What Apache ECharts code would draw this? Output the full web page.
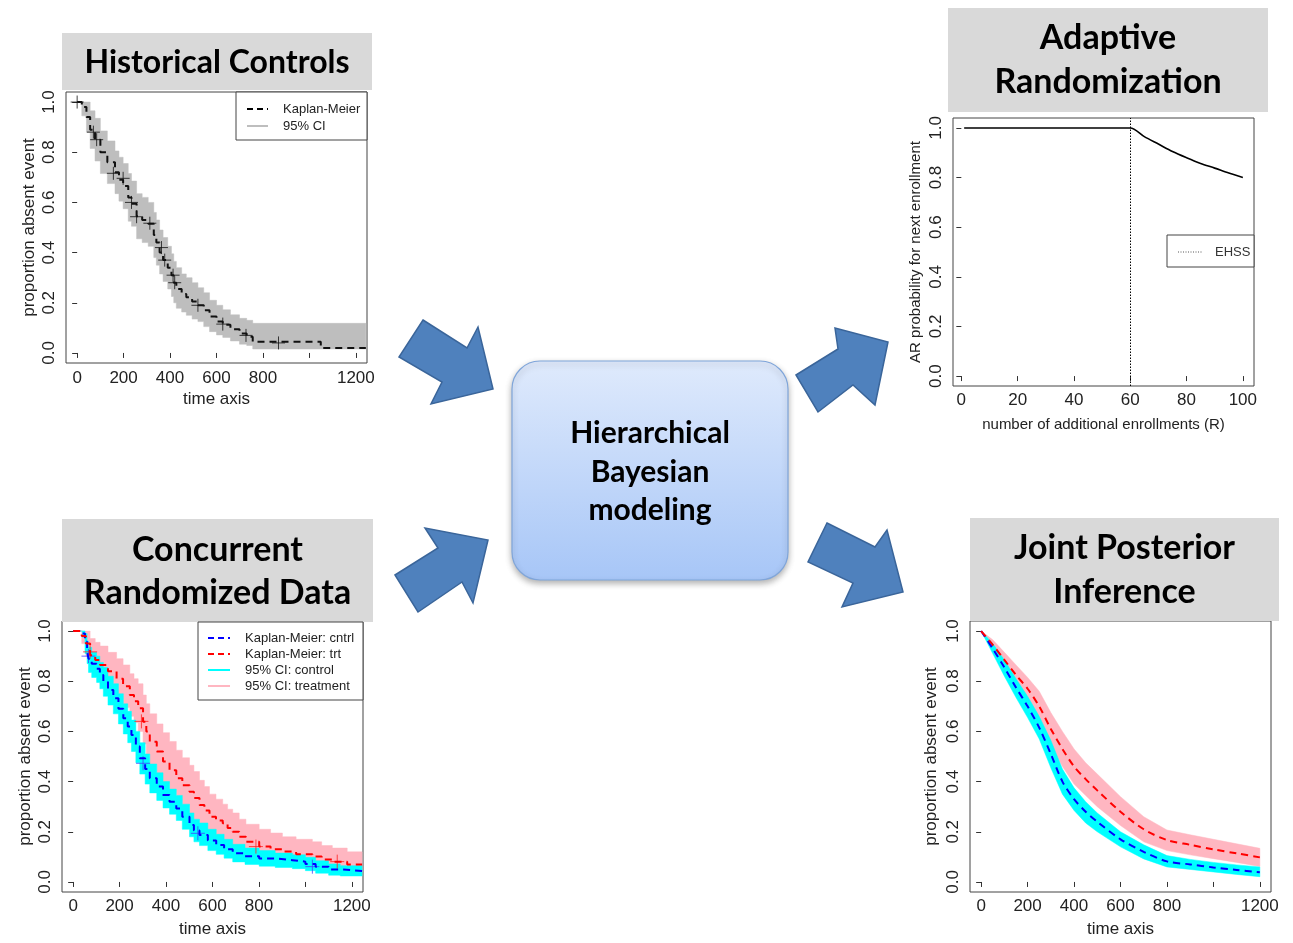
<!DOCTYPE html>
<html><head><meta charset="utf-8">
<script src="https://cdn.jsdelivr.net/npm/echarts@6/dist/echarts.min.js"></script>
<style>html,body{margin:0;padding:0;background:#fff}#c{width:1293px;height:943px}</style>
</head><body><div id="c"></div><script>
// ---------- Panel 1: Historical Controls (Kaplan-Meier, step) ----------
const hcTime  = [0, 20, 40, 56, 77, 100, 130, 163, 180, 198, 220, 234, 256, 280, 306, 330, 341, 355, 370, 390, 406, 416, 427, 450, 470, 495, 520, 545, 570, 600, 627, 660, 699, 730, 756, 1049, 1243];
const hcSurv  = [1.0, 0.98, 0.94, 0.89, 0.85, 0.80, 0.76, 0.72, 0.69, 0.665, 0.62, 0.595, 0.545, 0.53, 0.515, 0.47, 0.44, 0.40, 0.37, 0.34, 0.31, 0.28, 0.255, 0.235, 0.222, 0.205, 0.19, 0.17, 0.145, 0.125, 0.112, 0.095, 0.078, 0.065, 0.045, 0.02, 0.02];
const hcUpper = [1.0, 1.0, 1.0, 0.965, 0.935, 0.885, 0.845, 0.805, 0.78, 0.755, 0.715, 0.685, 0.635, 0.62, 0.60, 0.56, 0.53, 0.49, 0.46, 0.425, 0.395, 0.365, 0.34, 0.315, 0.30, 0.28, 0.26, 0.24, 0.21, 0.19, 0.172, 0.152, 0.138, 0.13, 0.118, 0.118, 0.118];
const hcLower = [1.0, 0.945, 0.88, 0.815, 0.765, 0.715, 0.675, 0.635, 0.605, 0.575, 0.525, 0.505, 0.455, 0.44, 0.425, 0.38, 0.35, 0.315, 0.285, 0.255, 0.225, 0.2, 0.178, 0.163, 0.15, 0.135, 0.125, 0.105, 0.085, 0.072, 0.062, 0.048, 0.035, 0.03, 0.016, 0.016, 0.016];
const hcCensorTime = [0, 70, 84, 156, 198, 234, 256, 313, 363, 377, 413, 420, 520, 627, 727, 867];
const hcCensorSurv = [1.0, 0.88, 0.85, 0.716, 0.696, 0.60, 0.543, 0.517, 0.42, 0.37, 0.31, 0.28, 0.19, 0.115, 0.07, 0.04];

// ---------- Panel 2: Adaptive Randomization ----------
const arR    = [1, 10, 20, 30, 40, 50, 60, 65, 70, 75, 80, 85, 90, 95, 100];
const arProb = [1.0, 1.0, 1.0, 1.0, 1.0, 1.0, 1.0, 0.965, 0.935, 0.905, 0.88, 0.857, 0.838, 0.818, 0.80];
const arEHSS = 60;

// ---------- Panel 3: Concurrent Randomized Data (step) ----------
const ctrlTime  = [0, 40, 51, 60, 66, 80, 101, 115, 130, 150, 173, 195, 216, 235, 251, 270, 287, 310, 330, 360, 387, 415, 444, 470, 501, 520, 544, 580, 616, 650, 687, 740, 801, 870, 944, 1000, 1044, 1100, 1150, 1244];
const ctrlSurv  = [1.0, 0.99, 0.957, 0.92, 0.89, 0.87, 0.85, 0.825, 0.80, 0.765, 0.732, 0.69, 0.652, 0.62, 0.586, 0.54, 0.493, 0.45, 0.413, 0.38, 0.347, 0.32, 0.293, 0.26, 0.227, 0.205, 0.187, 0.165, 0.147, 0.13, 0.114, 0.102, 0.094, 0.087, 0.081, 0.072, 0.061, 0.05, 0.044, 0.044];
const ctrlUpper = [1.0, 1.0, 0.99, 0.96, 0.935, 0.915, 0.90, 0.875, 0.855, 0.82, 0.79, 0.75, 0.71, 0.68, 0.645, 0.60, 0.555, 0.51, 0.47, 0.435, 0.40, 0.37, 0.345, 0.31, 0.275, 0.25, 0.235, 0.21, 0.19, 0.17, 0.15, 0.135, 0.125, 0.115, 0.108, 0.098, 0.085, 0.072, 0.065, 0.065];
const ctrlLower = [1.0, 0.975, 0.91, 0.87, 0.835, 0.815, 0.795, 0.77, 0.74, 0.705, 0.67, 0.63, 0.59, 0.555, 0.52, 0.475, 0.43, 0.39, 0.355, 0.325, 0.295, 0.27, 0.245, 0.21, 0.18, 0.16, 0.145, 0.125, 0.11, 0.095, 0.08, 0.07, 0.063, 0.058, 0.053, 0.045, 0.035, 0.027, 0.024, 0.024];
const trtTime  = [0, 37, 55, 73, 95, 116, 150, 187, 215, 244, 262, 280, 301, 315, 330, 360, 387, 415, 444, 470, 501, 520, 544, 565, 587, 615, 644, 665, 687, 715, 744, 801, 850, 901, 960, 1030, 1070, 1116, 1180, 1244];
const trtSurv  = [1.0, 0.98, 0.95, 0.904, 0.885, 0.865, 0.84, 0.81, 0.78, 0.745, 0.72, 0.692, 0.638, 0.60, 0.559, 0.52, 0.48, 0.445, 0.413, 0.385, 0.36, 0.335, 0.307, 0.285, 0.26, 0.245, 0.234, 0.215, 0.2, 0.18, 0.16, 0.141, 0.13, 0.121, 0.11, 0.101, 0.09, 0.081, 0.07, 0.068];
const trtUpper = [1.0, 1.0, 1.0, 0.97, 0.955, 0.94, 0.915, 0.89, 0.865, 0.83, 0.81, 0.79, 0.745, 0.71, 0.67, 0.63, 0.595, 0.56, 0.525, 0.495, 0.465, 0.44, 0.405, 0.38, 0.35, 0.33, 0.31, 0.29, 0.275, 0.25, 0.23, 0.21, 0.195, 0.18, 0.17, 0.16, 0.145, 0.135, 0.12, 0.115];
const trtLower = [1.0, 0.95, 0.90, 0.84, 0.82, 0.79, 0.765, 0.73, 0.695, 0.66, 0.635, 0.60, 0.55, 0.51, 0.47, 0.43, 0.39, 0.36, 0.325, 0.3, 0.275, 0.25, 0.225, 0.205, 0.185, 0.17, 0.16, 0.145, 0.13, 0.115, 0.10, 0.085, 0.078, 0.072, 0.065, 0.058, 0.052, 0.046, 0.04, 0.038];
const ctrlCensorTime = [66, 301, 537, 1030];
const ctrlCensorSurv = [0.90, 0.473, 0.194, 0.061];
const trtCensorTime  = [73, 294, 787, 1137];
const trtCensorSurv  = [0.917, 0.64, 0.141, 0.081];

// ---------- Panel 4: Joint Posterior Inference (smooth) ----------
const jpTime      = [0, 50, 100, 150, 200, 250, 300, 350, 400, 450, 500, 600, 700, 800, 900, 1000, 1100, 1200];
const jpTrt       = [1.0, 0.945, 0.885, 0.825, 0.77, 0.70, 0.61, 0.53, 0.46, 0.41, 0.365, 0.28, 0.21, 0.167, 0.148, 0.13, 0.114, 0.098];
const jpTrtUpper  = [1.0, 0.965, 0.915, 0.865, 0.815, 0.76, 0.675, 0.60, 0.53, 0.475, 0.43, 0.34, 0.26, 0.207, 0.188, 0.17, 0.152, 0.134];
const jpTrtLower  = [1.0, 0.925, 0.855, 0.79, 0.725, 0.645, 0.545, 0.46, 0.39, 0.345, 0.30, 0.225, 0.16, 0.125, 0.108, 0.093, 0.078, 0.062];
const jpCtrl      = [1.0, 0.93, 0.855, 0.775, 0.70, 0.615, 0.51, 0.40, 0.33, 0.28, 0.24, 0.17, 0.12, 0.082, 0.07, 0.058, 0.048, 0.039];
const jpCtrlUpper = [1.0, 0.95, 0.885, 0.81, 0.74, 0.66, 0.565, 0.45, 0.375, 0.32, 0.275, 0.20, 0.148, 0.105, 0.09, 0.078, 0.068, 0.06];
const jpCtrlLower = [1.0, 0.91, 0.82, 0.735, 0.655, 0.57, 0.455, 0.35, 0.285, 0.235, 0.20, 0.14, 0.092, 0.06, 0.05, 0.04, 0.03, 0.021];

// ---------- tick labels ----------
const timeTicks = [0, 200, 400, 600, 800, 1000, 1200];
const timeHidden = [1000];
const arTicks = [0, 20, 40, 60, 80, 100];
const probTicks = [0, 0.2, 0.4, 0.6, 0.8, 1.0];

const FONT = "'Liberation Sans', Arial, Helvetica, sans-serif";
const TFONT = "Lato, 'Open Sans', sans-serif";

function pairs(xs, ys) { return xs.map((x, i) => [x, ys[i]]); }
function stepBand(t, up, lo) {
  const pts = [];
  for (let i = 0; i < t.length; i++) { pts.push([t[i], up[i]]); if (i < t.length - 1) pts.push([t[i + 1], up[i]]); }
  for (let i = t.length - 1; i >= 0; i--) { if (i < t.length - 1) pts.push([t[i + 1], lo[i]]); pts.push([t[i], lo[i]]); }
  return pts;
}
function smoothBand(t, up, lo) {
  const pts = [];
  for (let i = 0; i < t.length; i++) pts.push([t[i], up[i]]);
  for (let i = t.length - 1; i >= 0; i--) pts.push([t[i], lo[i]]);
  return pts;
}
function band(gi, poly, color) {
  return {
    type: 'custom', xAxisIndex: gi, yAxisIndex: gi, silent: true, data: poly,
    encode: { x: 0, y: 1 },
    renderItem: function (params, api) {
      if (params.dataIndex !== 0) return null;
      return { type: 'polygon', shape: { points: poly.map(p => api.coord(p)) }, style: { fill: color, stroke: color, lineWidth: 0.5 } };
    }
  };
}
function km(gi, t, s, color, width, step) {
  return {
    type: 'line', xAxisIndex: gi, yAxisIndex: gi, data: pairs(t, s), step: step ? 'end' : false,
    showSymbol: false, symbol: 'none', silent: true,
    lineStyle: { color: color, width: width, type: [7, 5] }
  };
}
const CROSS = 'path://M0,5L10,5M5,0L5,10';
function censor(gi, t, s, color, size) {
  return {
    type: 'scatter', xAxisIndex: gi, yAxisIndex: gi, data: pairs(t, s), symbol: CROSS, symbolSize: size, silent: true,
    itemStyle: { color: 'rgba(0,0,0,0)', borderColor: color, borderWidth: 1 }
  };
}
function xAx(gi, min, max, ticks, hidden, name, margin, nameGap, nameSize) {
  return {
    gridIndex: gi, type: 'value', min: min, max: max, splitLine: { show: false }, axisLine: { show: false },
    axisTick: { show: true, customValues: ticks, length: 5, lineStyle: { color: '#333', width: 1 } },
    axisLabel: { customValues: ticks, margin: margin, fontSize: 17, color: '#222', fontFamily: FONT,
      formatter: v => hidden.indexOf(v) >= 0 ? '' : String(v) },
    name: name, nameLocation: 'middle', nameGap: nameGap,
    nameTextStyle: { fontSize: nameSize, color: '#222', fontFamily: FONT }
  };
}
function yAx(gi, min, max, name, margin, nameGap, nameSize) {
  return {
    gridIndex: gi, type: 'value', min: min, max: max, splitLine: { show: false }, axisLine: { show: false },
    axisTick: { show: true, customValues: probTicks, length: 5, lineStyle: { color: '#333', width: 1 } },
    axisLabel: { customValues: probTicks, margin: margin, rotate: 90, fontSize: 17, color: '#222', fontFamily: FONT,
      formatter: v => v.toFixed(1) },
    name: name, nameLocation: 'middle', nameGap: nameGap,
    nameTextStyle: { fontSize: nameSize, color: '#222', fontFamily: FONT }
  };
}
function grid(l, t, w, h) {
  return { left: l, top: t, width: w, height: h, show: true, borderColor: '#444', borderWidth: 1,
    backgroundColor: 'transparent', containLabel: false, outerBoundsMode: 'none' };
}

// ---------- decoration ----------
function titleBox(x, y, w, h, lines, lineYs, size) {
  const els = [{ type: 'rect', z: 100, shape: { x: x, y: y, width: w, height: h }, style: { fill: '#d9d9d9' } }];
  lines.forEach((ln, i) => els.push({ type: 'text', z: 101, x: x + w / 2, y: lineYs[i],
    style: { text: ln, font: 'bold ' + size + 'px ' + TFONT, fill: '#000', align: 'center', verticalAlign: 'middle',
      textAlign: 'center', textVerticalAlign: 'middle' } }));
  return els;
}
function arrow(points) {
  return { type: 'polygon', z: 90, shape: { points: points }, style: { fill: '#4f81bd', stroke: '#3a659a', lineWidth: 1.5 } };
}
function legendLine(x1, x2, y, color, width, dash) {
  return { type: 'line', z: 102, shape: { x1: x1, y1: y, x2: x2, y2: y }, style: { stroke: color, lineWidth: width, lineDash: dash || null } };
}
function legendText(x, y, txt, color) {
  return { type: 'text', z: 102, x: x, y: y, style: { text: txt, font: '13px ' + FONT, fill: color || '#222', align: 'left', verticalAlign: 'middle', textAlign: 'left', textVerticalAlign: 'middle' } };
}
function centerText(txt, y) {
  return { type: 'text', z: 96, x: 650, y: y, style: { text: txt, font: 'bold 30px ' + TFONT, fill: '#000', align: 'center', verticalAlign: 'middle', textAlign: 'center', textVerticalAlign: 'middle' } };
}

const graphics = [].concat(
  titleBox(62, 33, 310, 57, ['Historical Controls'], [63], 32),
  titleBox(948, 8, 320, 104, ['Adaptive', 'Randomization'], [38, 82], 34),
  titleBox(62, 519, 311, 103, ['Concurrent', 'Randomized Data'], [550, 593], 34),
  titleBox(970, 518, 309, 103, ['Joint Posterior', 'Inference'], [548, 592], 34),
  [
    arrow([[423, 320], [467, 348], [478, 327], [493, 389], [431, 404], [442, 382], [399, 357]]),
    arrow([[395, 575], [438, 548], [425, 528], [488, 540], [473, 603], [462, 582], [418, 612]]),
    arrow([[796, 375], [838, 349], [835, 328], [888, 342], [875, 405], [853, 385], [818, 412]]),
    arrow([[827, 523], [875, 547], [887, 530], [903, 592], [842, 607], [853, 583], [808, 562]]),
    { type: 'rect', z: 95, shape: { x: 512, y: 361, width: 276, height: 219, r: 28 },
      style: { fill: new echarts.graphic.LinearGradient(0, 0, 0, 1, [{ offset: 0, color: '#dfeafc' }, { offset: 1, color: '#a7c6f7' }]),
        stroke: '#7fa5da', lineWidth: 1.2, shadowBlur: 6, shadowOffsetY: 3, shadowColor: 'rgba(0,0,0,0.3)' } },
    centerText('Hierarchical', 433), centerText('Bayesian', 472), centerText('modeling', 510),
    // legend panel 1
    { type: 'rect', z: 101, shape: { x: 236, y: 92, width: 131, height: 48 }, style: { fill: '#fff', stroke: '#444', lineWidth: 1 } },
    legendLine(247, 268, 109, '#000', 2, [6, 4]), legendText(283, 109, 'Kaplan-Meier'),
    legendLine(247, 268, 126, '#bebebe', 2), legendText(283, 126, '95% CI'),
    // legend panel 2
    { type: 'rect', z: 101, shape: { x: 1167, y: 235, width: 87, height: 32 }, style: { fill: '#fff', stroke: '#444', lineWidth: 1 } },
    legendLine(1178, 1202, 252, '#555', 1, [1, 1.5]), legendText(1215, 252, 'EHSS', '#333'),
    // legend panel 3
    { type: 'rect', z: 101, shape: { x: 198, y: 622, width: 165, height: 78 }, style: { fill: '#fff', stroke: '#444', lineWidth: 1 } },
    legendLine(208, 230, 638, '#0000ff', 2, [6, 4]), legendText(245, 638, 'Kaplan-Meier: cntrl'),
    legendLine(208, 230, 654, '#ff0000', 2, [6, 4]), legendText(245, 654, 'Kaplan-Meier: trt'),
    legendLine(208, 230, 670, '#00ffff', 2), legendText(245, 670, '95% CI: control'),
    legendLine(208, 230, 686, '#ffb6c1', 2), legendText(245, 686, '95% CI: treatment')
  ]
);

const option = {
  animation: false,
  backgroundColor: '#fff',
  grid: [grid(66, 92, 301, 271), grid(953, 118, 301, 268), grid(62, 621, 301, 271), grid(970, 621, 301, 271)],
  xAxis: [
    xAx(0, -48, 1248, timeTicks, timeHidden, 'time axis', 7, 28, 17),
    xAx(1, -2.96, 103.96, arTicks, [], 'number of additional enrollments (R)', 6, 31, 15),
    xAx(2, -48, 1248, timeTicks, timeHidden, 'time axis', 6, 29, 17),
    xAx(3, -48, 1248, timeTicks, timeHidden, 'time axis', 6, 29, 17)
  ],
  yAxis: [
    yAx(0, -0.04, 1.04, 'proportion absent event', 8, 28, 17),
    yAx(1, -0.04, 1.04, 'AR probability for next enrollment', 8, 30, 15),
    yAx(2, -0.04, 1.04, 'proportion absent event', 8, 28, 17),
    yAx(3, -0.04, 1.04, 'proportion absent event', 8, 30, 17)
  ],
  graphic: graphics,
  series: [
    band(0, stepBand(hcTime, hcUpper, hcLower), '#bebebe'),
    km(0, hcTime, hcSurv, '#111', 2, true),
    censor(0, hcCensorTime, hcCensorSurv, '#111', 13),

    {
      type: 'line', xAxisIndex: 1, yAxisIndex: 1, data: pairs(arR, arProb), showSymbol: false, symbol: 'none', silent: true,
      smooth: 0.3, lineStyle: { color: '#000', width: 1.6 },
      markLine: { silent: true, symbol: 'none', label: { show: false }, lineStyle: { type: [1.5, 1.5], color: '#000', width: 1 }, data: [{ xAxis: arEHSS }] }
    },

    band(2, stepBand(trtTime, trtUpper, trtLower), '#ffb6c1'),
    band(2, stepBand(ctrlTime, ctrlUpper, ctrlLower), '#00ffff'),
    km(2, ctrlTime, ctrlSurv, '#0000ff', 2, true),
    km(2, trtTime, trtSurv, '#ff0000', 2, true),
    censor(2, ctrlCensorTime, ctrlCensorSurv, '#4040ff', 14),
    censor(2, trtCensorTime, trtCensorSurv, '#ff2020', 14),

    band(3, smoothBand(jpTime, jpTrtUpper, jpTrtLower), '#ffb6c1'),
    band(3, smoothBand(jpTime, jpCtrlUpper, jpCtrlLower), '#00ffff'),
    Object.assign(km(3, jpTime, jpCtrl, '#0000ff', 2, false), { smooth: 0.3 }),
    Object.assign(km(3, jpTime, jpTrt, '#ff0000', 2, false), { smooth: 0.3 })
  ]
};
const chart = echarts.init(document.getElementById('c'), null, { renderer: 'canvas' });
chart.setOption(option);
</script></body></html>
